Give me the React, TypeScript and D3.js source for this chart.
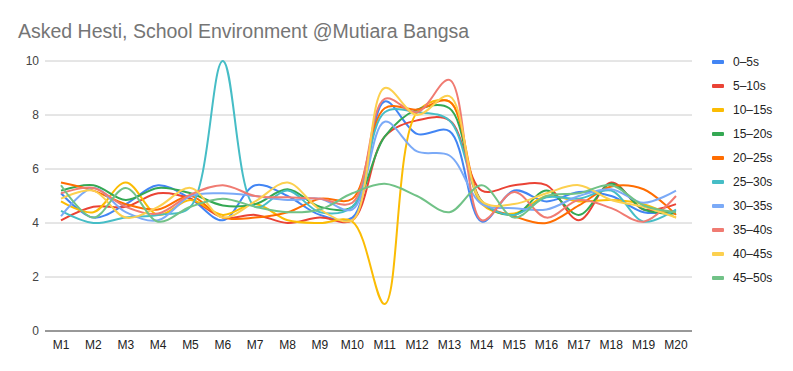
import React, { useEffect, useRef } from "react";
import * as d3 from "d3";

const months = ["M1", "M2", "M3", "M4", "M5", "M6", "M7", "M8", "M9", "M10", "M11", "M12", "M13", "M14", "M15", "M16", "M17", "M18", "M19", "M20"];
const seriesNames = ["0–5s", "5–10s", "10–15s", "15–20s", "20–25s", "25–30s", "30–35s", "35–40s", "40–45s", "45–50s"];
const seriesColors = ["#4285F4", "#EA4335", "#FBBC04", "#34A853", "#FF6D01", "#46BDC6", "#7BAAF7", "#F07B72", "#FCD04F", "#71C287"];

const s0to5 = [5.1, 4.2, 4.7, 5.4, 4.9, 4.1, 5.4, 5.0, 4.3, 4.2, 8.5, 7.3, 7.4, 4.05, 5.2, 4.8, 5.15, 5.0, 4.4, 4.45];
const s5to10 = [4.1, 4.6, 4.6, 5.1, 4.9, 4.2, 4.3, 4.0, 4.2, 4.1, 7.2, 7.8, 7.8, 5.2, 5.4, 5.4, 4.1, 5.5, 4.5, 4.7];
const s10to15 = [4.8, 4.4, 5.5, 4.3, 4.85, 4.3, 4.7, 4.1, 4.0, 4.05, 1.0, 8.1, 8.5, 4.7, 4.35, 5.0, 4.8, 4.85, 4.7, 4.2];
const s15to20 = [5.2, 5.4, 4.85, 5.3, 5.1, 4.65, 4.7, 5.25, 4.6, 4.6, 7.2, 8.2, 8.25, 4.8, 4.3, 5.2, 4.3, 5.45, 4.5, 4.35];
const s20to25 = [5.5, 5.2, 4.7, 4.5, 5.0, 4.2, 4.2, 4.4, 4.9, 4.9, 8.25, 8.2, 8.5, 4.8, 4.25, 4.0, 4.65, 5.35, 5.25, 4.3];
const s25to30 = [4.45, 4.0, 4.2, 4.3, 4.6, 10, 4.6, 5.2, 4.4, 4.6, 8.1, 8.1, 7.8, 4.8, 4.3, 4.95, 4.9, 5.2, 4.05, 4.5];
const s30to35 = [4.25, 5.3, 4.4, 4.1, 5.0, 5.1, 5.0, 4.85, 4.9, 4.5, 7.75, 6.65, 6.5, 4.7, 4.55, 4.5, 5.0, 5.25, 4.75, 5.2];
const s35to40 = [5.1, 5.3, 4.6, 4.35, 5.05, 5.4, 5.0, 4.95, 4.9, 4.75, 8.6, 8.1, 9.3, 4.1, 5.15, 4.2, 4.85, 4.55, 4.05, 5.0];
const s40to45 = [4.9, 5.2, 4.2, 4.6, 5.3, 4.2, 4.8, 5.5, 4.5, 4.1, 9.0, 8.0, 8.7, 4.8, 4.7, 5.1, 5.4, 4.85, 4.6, 4.2];
const s45to50 = [5.4, 4.2, 5.3, 4.05, 4.6, 4.9, 4.6, 4.4, 4.5, 5.1, 5.45, 5.0, 4.4, 5.4, 4.2, 5.0, 5.1, 5.4, 4.65, 4.4];

const seriesValues = [s0to5, s5to10, s10to15, s15to20, s20to25, s25to30, s30to35, s35to40, s40to45, s45to50];
const yTicks = [0, 2, 4, 6, 8, 10];

const App = () => {
  const svgRef = useRef<SVGSVGElement>(null);

  useEffect(() => {
    const width = 793;
    const height = 371;
    const font = "Arial, 'Liberation Sans', sans-serif";

    const svg = d3.select(svgRef.current);
    svg.selectAll("*").remove();
    svg.attr("width", width).attr("height", height);

    svg.append("rect").attr("width", width).attr("height", height).attr("fill", "#fff");

    const x = d3.scalePoint<string>().domain(months).range([61, 676]);
    const y = d3.scaleLinear().domain([0, 10]).range([331, 61]);

    // title
    svg
      .append("text")
      .attr("x", 18)
      .attr("y", 38)
      .attr("font-family", font)
      .attr("font-size", 19.5)
      .attr("fill", "#757575")
      .text("Asked Hesti, School Environment @Mutiara Bangsa");

    // grid
    svg
      .append("g")
      .selectAll("line")
      .data(yTicks.filter((t) => t !== 0))
      .join("line")
      .attr("x1", 45)
      .attr("x2", 692)
      .attr("y1", (d) => y(d))
      .attr("y2", (d) => y(d))
      .attr("stroke", "#cccccc")
      .attr("stroke-width", 1);

    svg
      .append("g")
      .selectAll("text")
      .data(yTicks)
      .join("text")
      .attr("x", 39)
      .attr("y", (d) => y(d) + 4)
      .attr("text-anchor", "end")
      .attr("font-family", font)
      .attr("font-size", 12)
      .attr("fill", "#444")
      .text((d) => d);

    svg
      .append("g")
      .selectAll("text")
      .data(months)
      .join("text")
      .attr("x", (d) => x(d)!)
      .attr("y", 349)
      .attr("text-anchor", "middle")
      .attr("font-family", font)
      .attr("font-size", 12)
      .attr("fill", "#222")
      .text((d) => d);

    const line = d3
      .line<number>()
      .x((d, i) => x(months[i])!)
      .y((d) => y(d))
      .curve(d3.curveCatmullRom.alpha(0.5));

    svg
      .append("g")
      .selectAll("path")
      .data(seriesValues)
      .join("path")
      .attr("d", (d) => line(d))
      .attr("fill", "none")
      .attr("stroke", (d, i) => seriesColors[i])
      .attr("stroke-width", 2);

    // baseline
    svg
      .append("line")
      .attr("x1", 45)
      .attr("x2", 692)
      .attr("y1", y(0))
      .attr("y2", y(0))
      .attr("stroke", "#333")
      .attr("stroke-width", 1);

    // legend
    const legend = svg
      .append("g")
      .selectAll("g")
      .data(seriesNames)
      .join("g")
      .attr("transform", (d, i) => `translate(712,${62 + i * 24})`);

    legend
      .append("rect")
      .attr("x", 0)
      .attr("y", -2)
      .attr("width", 12)
      .attr("height", 4)
      .attr("rx", 1)
      .attr("fill", (d, i) => seriesColors[i]);

    legend
      .append("text")
      .attr("x", 21)
      .attr("y", 4)
      .attr("font-family", font)
      .attr("font-size", 12)
      .attr("fill", "#222")
      .text((d) => d);
  }, []);

  return <svg ref={svgRef} style={{ position: "absolute", left: 0, top: 0 }}></svg>;
};

export default App;
